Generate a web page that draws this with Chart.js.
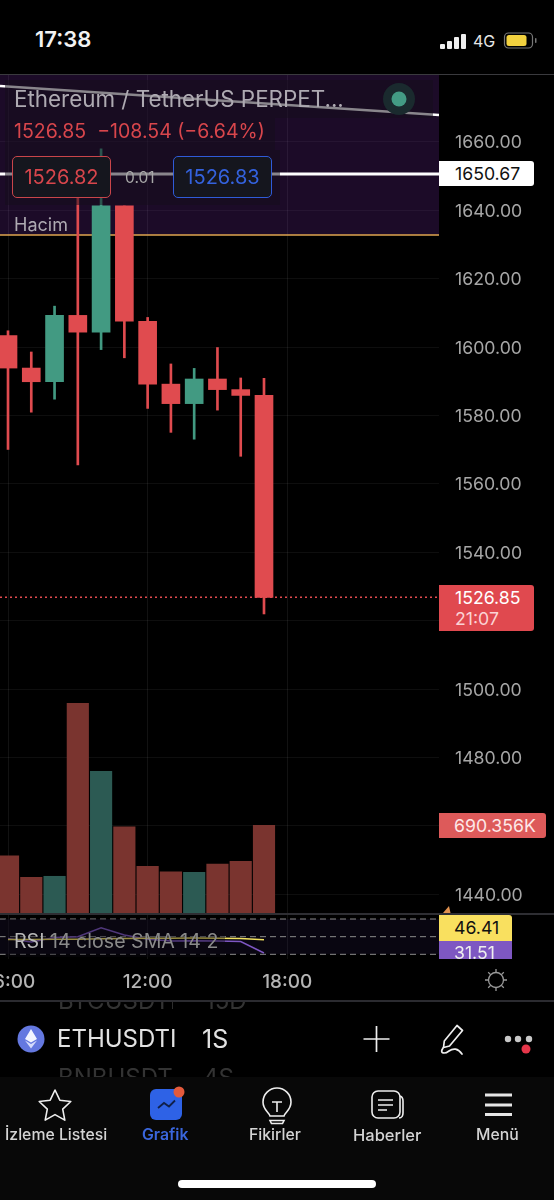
<!DOCTYPE html>
<html lang="tr">
<head>
<meta charset="utf-8">
<title>ETHUSDT</title>
<script src="https://cdn.jsdelivr.net/npm/chart.js@4"></script>
<style>
  html,body{margin:0;padding:0;background:#000;width:554px;height:1200px;overflow:hidden;font-family:Inter,Roboto,sans-serif}
  #app{position:relative;width:554px;height:1200px;overflow:hidden;background:#000}
  canvas{position:absolute;left:0}
  .t{position:absolute;white-space:nowrap;line-height:1}
  .box{position:absolute}
  svg{position:absolute;overflow:visible}
</style>
</head>
<body>
<div id="app">
  <canvas id="price" width="554" height="839" style="top:75px"></canvas>
  <canvas id="rsi" width="554" height="86" style="top:914px"></canvas>

  <!-- status bar -->
  <div class="t" style="left:35px;top:28px;font-size:22px;font-weight:600;color:#f2f2f2">17:38</div>
  <svg style="left:0;top:0" width="554" height="70">
    <rect x="440" y="44" width="5" height="5" rx="1" fill="#eee"/>
    <rect x="447" y="41" width="5" height="8" rx="1" fill="#eee"/>
    <rect x="454" y="37" width="5" height="12" rx="1" fill="#eee"/>
    <rect x="461" y="34" width="5" height="15" rx="1" fill="#eee"/>
    <rect x="504.500" y="33" width="28" height="15" rx="4" fill="none" stroke="#777" stroke-width="1.200"/>
    <rect x="506.500" y="35" width="20" height="11" rx="2.500" fill="#f2d13f"/>
    <rect x="535" y="38" width="1.500" height="5" rx="0.700" fill="#777"/>
  </svg>
  <div class="t" style="left:473px;top:33px;font-size:16px;color:#e6e6e6">4G</div>
  <div class="box" style="left:0;top:74px;width:554px;height:1px;background:#3a3a3e"></div>

  <!-- symbol legend over the chart -->
  <div class="box" style="left:5px;top:80px;width:428px;height:38px;background:rgba(20,14,26,.5)"></div>
  <div class="box" style="left:5px;top:118px;width:270px;height:32px;background:rgba(20,14,26,.5)"></div>
  <div class="box" style="left:5px;top:150px;width:275px;height:55px;background:rgba(20,14,26,.5)"></div>
  <div class="t" style="left:14px;top:88px;font-size:22.400px;color:#aeaab2">Ethereum / TetherUS PERPET...</div>
  <svg style="left:0;top:0" width="440" height="130">
    <circle cx="399" cy="99" r="16" fill="#1a2a2e"/>
    <circle cx="399" cy="99" r="7.500" fill="#439b84"/>
  </svg>
  <div class="t" style="left:14px;top:122px;font-size:19.500px;color:#d8464c">1526.85 &nbsp;−108.54 (−6.64%)</div>
  <div class="t" style="left:12px;top:156px;width:97px;height:40px;border:1.500px solid #c9454a;border-radius:5px;background:#15161e;color:#d8464c;font-size:20px;line-height:41px;text-align:center">1526.82</div>
  <div class="t" style="left:125px;top:170px;font-size:15.500px;color:#a8a8a8">0.01</div>
  <div class="t" style="left:173px;top:156px;width:97px;height:40px;border:1.500px solid #2f5bd8;border-radius:5px;background:#15161e;color:#3462de;font-size:20px;line-height:41px;text-align:center">1526.83</div>
  <div class="t" style="left:14px;top:216px;font-size:18px;color:#aeaab2">Hacim</div>

  <!-- price axis tags, placed from the scales once the charts exist -->
  <div id="tagLine" class="t" style="left:439px;width:95px;height:25px;background:#fff;color:#111;font-size:17.700px;line-height:25px;border-radius:0 3px 3px 0;text-indent:16px"></div>
  <div id="tagLast" class="box" style="left:439px;width:95px;height:46px;background:#e0494f;border-radius:0 3px 3px 0">
    <div id="tagLastP" class="t" style="left:16px;top:4px;font-size:17.700px;color:#fff"></div>
    <div class="t" style="left:16px;top:25px;font-size:17.700px;color:#fbd3d5">21:07</div>
  </div>
  <div id="tagVol" class="t" style="left:439px;width:107px;height:25px;background:#dd5a5a;color:#fde8e8;font-size:17.700px;line-height:25px;border-radius:0 3px 3px 0;text-indent:15px"></div>
  <svg style="left:0;top:0" width="554" height="920"><path d="M443 913 L449 906 L450.500 913 Z" fill="#e0914f"/></svg>

  <!-- oscillator panel text and tags -->
  <div class="box" style="left:5px;top:919px;width:220px;height:38px;background:rgba(10,8,16,.4)"></div>
  <div class="t" style="left:14px;top:932px;font-size:19.600px;color:#b8b8b8">RSI <span style="color:#8a8a8a">14 close SMA 14 2</span></div>
  <div id="tagRsiA" class="t" style="left:439px;top:915px;width:73px;height:26px;background:#f9e05f;color:#111;font-size:17.700px;line-height:26px;border-radius:0 3px 0 0;text-indent:15px"></div>
  <div id="tagRsiB" class="t" style="left:439px;top:941px;width:73px;height:18px;overflow:hidden;background:#7e57c2;color:#eee;font-size:17.700px;line-height:24px;text-indent:15px"></div>
  <svg style="left:0;top:0" width="554" height="1000">
    <g fill="none" stroke="#999" stroke-width="1.300">
      <circle cx="496" cy="980" r="7.500"/>
      <path d="M496 969v3.500M496 987.500v3.500M485 980h3.500M503.500 980h3.500M488.200 972.200l2.400 2.400M501.400 985.400l2.400 2.400M488.200 987.800l2.400-2.400M501.400 974.600l2.400-2.400"/>
    </g>
  </svg>
  <div class="box" style="left:0;top:913px;width:554px;height:2px;background:#2e2e33"></div>
  <div class="box" style="left:0;top:1000px;width:554px;height:2px;background:#2b2b30"></div>

  <!-- symbol bar with neighbours scrolling behind it -->
  <div class="box" style="left:0;top:1002px;width:554px;height:75px;overflow:hidden;background:#000">
    <div class="t" style="left:58px;top:-13px;width:115px;overflow:hidden;font-size:24px;color:#333">BTCUSDTI</div>
    <div class="t" style="left:205px;top:-13px;font-size:24px;color:#333">15D</div>
    <div class="t" style="left:57px;top:25px;width:118px;overflow:hidden;font-size:24px;color:#e2e2e2">ETHUSDTI</div>
    <div class="t" style="left:202px;top:25px;font-size:25px;color:#e2e2e2">1S</div>
    <div class="t" style="left:58px;top:64px;width:115px;overflow:hidden;font-size:24px;color:#333">BNBUSDT</div>
    <div class="t" style="left:203px;top:64px;font-size:24px;color:#333">4S</div>
  </div>
  <svg style="left:0;top:0" width="554" height="1200">
    <circle cx="31" cy="1039" r="13.500" fill="#6478e0"/>
    <path d="M31 1029l-6 10 6 3.500 6-3.500z" fill="#f3f5ff"/>
    <path d="M31 1044l-6-3.500 6 8 6-8z" fill="#d5dbfb"/>
    <path d="M363.500 1039h26M376.500 1026v26" stroke="#eee" stroke-width="1.700" fill="none"/>
    <g fill="none" stroke="#eee" stroke-width="1.700" stroke-linecap="round" stroke-linejoin="round">
      <path d="M457 1025.500l5.500 5-13 15.500-6 1.500 0.800-6.500z"/>
      <path d="M443 1048c-4 6 2 6 6 3s9-3 13 3"/>
    </g>
    <circle cx="508" cy="1039" r="3.200" fill="#c8c8c8"/>
    <circle cx="518" cy="1039" r="3.200" fill="#c8c8c8"/>
    <circle cx="529" cy="1039" r="3.200" fill="#c8c8c8"/>
    <circle cx="526" cy="1049" r="4.500" fill="#e6364a"/>
  </svg>

  <!-- bottom navigation -->
  <div class="box" style="left:0;top:1077px;width:554px;height:123px;background:#080808"></div>
  <svg style="left:0;top:0" width="554" height="1200">
    <path d="M55 1090l4.800 10.200 11 1.300-8.100 7.600 2.100 11-9.800-5.500-9.800 5.500 2.100-11-8.100-7.600 11-1.300z" fill="none" stroke="#eee" stroke-width="1.600" stroke-linejoin="round"/>
    <rect x="150" y="1089" width="32" height="31" rx="6" fill="#2e62e6"/>
    <path d="M158 1108l6-5 5 3.500 6-6" fill="none" stroke="#10204a" stroke-width="1.800"/>
    <circle cx="179" cy="1092" r="5.500" fill="#e45a3c"/>
    <g fill="none" stroke="#eee" stroke-width="1.600">
      <path d="M270 1116c-1-4-7-6-7-14a14 14 0 0 1 28 0c0 8-6 10-7 14z"/>
      <path d="M270 1120.500h14l-1.500 3h-11z"/>
      <path d="M272 1102h10M277 1102v10"/>
      <rect x="372" y="1091" width="28" height="27" rx="6"/>
      <path d="M400 1096c3 1 3 3 3 5v12c0 2-1 5-4 5"/>
      <path d="M378 1100h15M378 1105h15M378 1110h9"/>
    </g>
    <path d="M485 1095h27M485 1105h27M485 1114.500h27" stroke="#e6e6e6" stroke-width="3" fill="none"/>
  </svg>
  <div class="t" style="left:5px;top:1127px;font-size:15.800px;font-weight:500;color:#d4d4d4">İzleme Listesi</div>
  <div class="t" style="left:142px;top:1127px;font-size:15.800px;font-weight:600;color:#3a66dc">Grafik</div>
  <div class="t" style="left:249px;top:1127px;font-size:15.800px;font-weight:500;color:#d4d4d4">Fikirler</div>
  <div class="t" style="left:353px;top:1126.500px;font-size:16.500px;font-weight:500;color:#d4d4d4">Haberler</div>
  <div class="t" style="left:476px;top:1127px;font-size:15.800px;font-weight:500;color:#d4d4d4">Menü</div>
  <div class="box" style="left:178px;top:1180px;width:198px;height:8px;border-radius:4px;background:#fff"></div>
</div>

<script>
// One candle per hour, 06:00 to 17:00
const hours  = [6, 7, 8, 9, 10, 11, 12, 13, 14, 15, 16, 17];
const opens  = [1603.4, 1593.9, 1589.9, 1609.3, 1604.4, 1641.3, 1607.6, 1589.2, 1583.5, 1590.7, 1587.6, 1585.9];
const closes = [1593.9, 1589.9, 1609.3, 1604.4, 1641.3, 1607.6, 1589.2, 1583.5, 1590.7, 1587.6, 1585.9, 1526.85];
const highs  = [1604.8, 1598.6, 1612.0, 1652.0, 1658.0, 1641.3, 1608.7, 1595.1, 1593.8, 1599.9, 1591.0, 1590.9];
const lows   = [1570.1, 1581.0, 1584.8, 1565.6, 1599.3, 1596.9, 1582.1, 1575.1, 1573.1, 1581.6, 1568.1, 1522.0];
const volumes = [451, 281, 289, 1651, 1115, 679, 368, 325, 320, 386, 407, 690.356];
const rsiValues = [48, 44, 49, 50, 60.2, 52, 47, 45, 45.5, 45, 44.5, 31.51];
const rsiSmooth = [46.8, 46.9, 47, 47.2, 47.6, 47.9, 48.1, 48.3, 48.4, 48.3, 48, 46.41];
const rsiBands = [70, 50, 30];

const lineLevel = 1650.67;
const zoneLevel = 1632.8;
const trendEnds = [1676.4, 1667.9];

// Visible window of the axes
const xRange = [5.656, 24.52];
const priceRange = [1434.56, 1679.59];
const volumeMax = 6597;
const rsiRange = [24.7, 75.7];

const RED = '#e04b4f', GREEN = '#429a82', VOL_RED = '#7a342f', VOL_GREEN = '#2c5a53';
const candleColors = hours.map((_, i) => closes[i] >= opens[i] ? GREEN : RED);
const volumeColors = hours.map((_, i) => closes[i] >= opens[i] ? VOL_GREEN : VOL_RED);

const level = (v) => [{x: xRange[0], y: v}, {x: xRange[1], y: v}];
const flatLine = (v, color, width, extra) => Object.assign({
  type: 'line', data: level(v), borderColor: color, borderWidth: width,
  pointRadius: 0, yAxisID: 'y', order: 8
}, extra);

const hourTicks = {
  type: 'linear', min: xRange[0], max: xRange[1], offset: false,
  afterBuildTicks(s) { s.ticks = [6, 12, 18].map(value => ({value})); },
  afterFit(s) { s.paddingLeft = 0; s.paddingRight = 0; },
  border: {display: false},
  grid: {color: 'rgba(255,255,255,.07)', drawTicks: false, offset: false}
};

const priceChart = new Chart(document.getElementById('price'), {
  type: 'bar',
  data: {
    datasets: [
      flatLine(zoneLevel, '#dfa64f', 1.5, {fill: 'end', backgroundColor: 'rgba(128,50,180,.22)', order: 9}),
      flatLine(lineLevel, '#ffffff', 3),
      {type: 'line', data: [{x: xRange[0], y: trendEnds[0]}, {x: xRange[1], y: trendEnds[1]}],
       borderColor: '#ffffff', borderWidth: 2.5, pointRadius: 0, yAxisID: 'y', order: 8},
      flatLine(closes[closes.length - 1], RED, 1.5, {borderDash: [2, 3], order: 7}),
      {data: hours.map((x, i) => ({x, y: volumes[i]})), yAxisID: 'vol', backgroundColor: volumeColors,
       barThickness: 21.5, grouped: false, order: 6},
      {data: hours.map((x, i) => ({x, y: [lows[i], highs[i]]})), yAxisID: 'y', backgroundColor: candleColors,
       barThickness: 2, grouped: false, order: 3},
      {data: hours.map((x, i) => ({x, y: [opens[i], closes[i]]})), yAxisID: 'y', backgroundColor: candleColors,
       barThickness: 18, grouped: false, order: 2}
    ]
  },
  options: {
    responsive: false, animation: false, devicePixelRatio: 1,
    layout: {padding: {top: 0, bottom: 1, left: 0, right: 0}},
    plugins: {legend: {display: false}, tooltip: {enabled: false}},
    scales: {
      x: Object.assign({}, hourTicks, {ticks: {display: false}}),
      y: {
        position: 'right', min: priceRange[0], max: priceRange[1],
        afterFit(s) { s.width = 115; s.paddingTop = 0; s.paddingBottom = 0; },
        border: {display: false},
        grid: {color: 'rgba(255,255,255,.055)', drawTicks: false},
        ticks: {stepSize: 20, includeBounds: false, autoSkip: false, padding: 16, labelOffset: 1,
                color: '#a6a6a6', font: {family: 'Inter', size: 17.7},
                callback: v => Number(v).toFixed(2)}
      },
      vol: {display: false, position: 'left', min: 0, max: volumeMax}
    }
  }
});

const rsiChart = new Chart(document.getElementById('rsi'), {
  type: 'line',
  data: {
    datasets: [
      {data: level(rsiBands[0]), borderWidth: 0, pointRadius: 0, fill: {target: {value: rsiBands[2]}},
       backgroundColor: 'rgba(70,50,130,.13)', order: 9},
      ...rsiBands.map(v => ({data: level(v), borderColor: '#8c8c8c', borderWidth: 1, borderDash: [6, 4],
                             pointRadius: 0, order: 8})),
      {data: hours.map((x, i) => ({x, y: rsiValues[i]})), borderColor: '#7e57c2', borderWidth: 1.5,
       pointRadius: 0, tension: 0, order: 2},
      {data: hours.map((x, i) => ({x, y: rsiSmooth[i]})), borderColor: '#f2e25f', borderWidth: 1.5,
       pointRadius: 0, tension: 0, order: 1}
    ]
  },
  options: {
    responsive: false, animation: false, devicePixelRatio: 1,
    layout: {padding: 0},
    plugins: {legend: {display: false}, tooltip: {enabled: false}},
    scales: {
      x: Object.assign({}, hourTicks, {
        afterFit(s) { s.height = 41; s.paddingLeft = 0; s.paddingRight = 0; },
        ticks: {autoSkip: false, maxRotation: 0, padding: 12, color: '#b4b4b4',
                font: {family: 'Inter', size: 19, weight: '500'},
                callback: v => String(v).padStart(2, '0') + ':00'}
      }),
      y: {
        position: 'right', min: rsiRange[0], max: rsiRange[1],
        afterFit(s) { s.width = 115; s.paddingTop = 0; s.paddingBottom = 0; },
        border: {display: false}, grid: {display: false}, ticks: {display: false}
      }
    }
  }
});

// Axis tags follow the series they report on
const py = v => 75 + priceChart.scales.y.getPixelForValue(v);
const vy = v => 75 + priceChart.scales.vol.getPixelForValue(v);
const el = id => document.getElementById(id);
el('tagLine').textContent = lineLevel.toFixed(2);
el('tagLine').style.top = (py(lineLevel) - 12.5) + 'px';
el('tagLastP').textContent = closes[closes.length - 1].toFixed(2);
el('tagLast').style.top = (py(closes[closes.length - 1]) - 12.5) + 'px';
el('tagVol').textContent = volumes[volumes.length - 1].toFixed(3) + 'K';
el('tagVol').style.top = (vy(volumes[volumes.length - 1]) - 12.5) + 'px';
el('tagRsiA').textContent = rsiSmooth[rsiSmooth.length - 1].toFixed(2);
el('tagRsiB').textContent = rsiValues[rsiValues.length - 1].toFixed(2);
</script>
</body>
</html>
